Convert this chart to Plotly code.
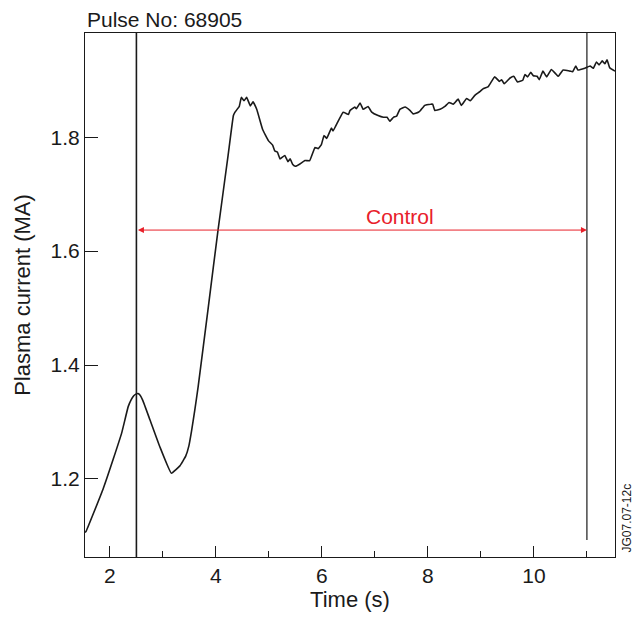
import plotly.graph_objects as go

time_s = [1.53, 1.55, 1.87, 2.06, 2.22, 2.345, 2.40, 2.45, 2.49, 2.53, 2.57, 2.62, 2.755, 2.94, 3.16, 3.32, 3.43,
          3.49, 3.54, 3.60, 3.665, 3.85, 3.95, 4.04, 4.23, 4.33, 4.36, 4.44,
          4.48, 4.53, 4.58, 4.65, 4.70, 4.77, 4.88, 4.99, 5.07, 5.11, 5.16, 5.21,
          5.30, 5.36, 5.40, 5.45, 5.50, 5.585, 5.68, 5.77, 5.87, 5.93, 5.99, 6.04, 6.09, 6.18, 6.21, 6.40, 6.50,
          6.53, 6.62, 6.65, 6.72, 6.78, 6.87, 6.94, 7.06, 7.16, 7.23, 7.28, 7.35, 7.41, 7.47, 7.57, 7.66, 7.72,
          7.82, 7.86, 7.94, 8.05, 8.09, 8.13, 8.23, 8.32, 8.40, 8.48, 8.57, 8.63, 8.73, 8.80, 8.89, 8.98, 9.04,
          9.14, 9.26, 9.35, 9.39, 9.44, 9.55, 9.62, 9.69, 9.79, 9.83, 9.88, 9.94, 9.99, 10.06, 10.10, 10.17,
          10.24, 10.33, 10.46, 10.55, 10.68, 10.73, 10.79, 10.83, 10.96, 11.06, 11.12, 11.18, 11.23, 11.29,
          11.34, 11.38, 11.43, 11.53]
current_ma = [1.106, 1.108, 1.182, 1.234, 1.280, 1.327, 1.339, 1.346, 1.349, 1.350, 1.347, 1.338, 1.304, 1.257,
              1.210, 1.223, 1.240, 1.258, 1.284, 1.320, 1.362, 1.497, 1.571, 1.637, 1.768, 1.838, 1.844, 1.854,
              1.870, 1.864, 1.870, 1.855, 1.862, 1.849, 1.814,
              1.794, 1.786, 1.776, 1.774, 1.762, 1.768, 1.757, 1.762, 1.752, 1.749, 1.753, 1.759, 1.759, 1.782,
              1.780, 1.787, 1.803, 1.798, 1.816, 1.811, 1.844, 1.840, 1.847, 1.853, 1.850, 1.860, 1.849, 1.854,
              1.844, 1.838, 1.835, 1.835, 1.828, 1.835, 1.837, 1.849, 1.853, 1.847, 1.841, 1.844, 1.847, 1.856,
              1.858, 1.858, 1.847, 1.849, 1.854, 1.861, 1.858, 1.867, 1.856, 1.868, 1.864, 1.874, 1.880, 1.885,
              1.889, 1.906, 1.898, 1.901, 1.894, 1.904, 1.907, 1.897, 1.900, 1.910, 1.906, 1.914, 1.908, 1.907,
              1.901, 1.916, 1.906, 1.919, 1.907, 1.918, 1.916, 1.915, 1.925, 1.918, 1.921, 1.925, 1.921, 1.932,
              1.927, 1.934, 1.929, 1.936, 1.922, 1.916]

x_ticks = [2, 4, 6, 8, 10]
y_ticks = [1.2, 1.4, 1.6, 1.8]
y_tick_labels = ["1.2", "1.4", "1.6", "1.8"]
x_range = [1.53, 11.53]
y_range = [1.063, 1.983]

control_start = 2.5
control_end = 11.0
control_level = 1.637
end_line_bottom = 1.093

font = "Liberation Sans, Arial, sans-serif"
ink = "#1a1a1a"

fig = go.Figure()
fig.add_trace(go.Scatter(x=time_s, y=current_ma, mode="lines", line_shape="spline",
                         line=dict(color=ink, width=1.6, smoothing=0.3), showlegend=False, hoverinfo="skip"))

fig.add_shape(type="line", xref="x", yref="paper", x0=control_start, x1=control_start, y0=0, y1=1,
              line=dict(color=ink, width=1.6))
fig.add_shape(type="line", xref="x", yref="y", x0=control_end, x1=control_end, y0=end_line_bottom, y1=y_range[1],
              line=dict(color=ink, width=1.2))

# double-headed red arrow
fig.add_annotation(x=control_end, y=control_level, ax=control_start, ay=control_level,
                   xref="x", yref="y", axref="x", ayref="y", text="", showarrow=True,
                   arrowhead=2, startarrowhead=2, arrowside="end+start", arrowsize=1.2, startarrowsize=1.2,
                   arrowwidth=1, arrowcolor="#e8202a")
fig.add_annotation(x=7.47, y=1.661, xref="x", yref="y", text="Control", showarrow=False,
                   font=dict(family=font, size=21, color="#e8202a"))

fig.add_annotation(x=0, y=1, xref="paper", yref="paper", xanchor="left", yanchor="bottom", yshift=0,
                   text="Pulse No: 68905", showarrow=False, font=dict(family=font, size=21, color=ink))
fig.add_annotation(x=1, y=0, xref="paper", yref="paper", xanchor="left", yanchor="bottom", xshift=2, yshift=2,
                   text="JG07.07-12c", textangle=-90, showarrow=False,
                   font=dict(family=font, size=12, color=ink))

fig.update_layout(
    width=634, height=619,
    margin=dict(l=85, r=19, t=33, b=57),
    plot_bgcolor="white", paper_bgcolor="white",
    font=dict(family=font, size=21, color=ink),
    xaxis=dict(range=x_range, tickvals=x_ticks, ticks="inside", ticklen=11, tickwidth=1, tickcolor=ink,
               showline=True, linecolor=ink, linewidth=1.2, mirror=True, showgrid=False, zeroline=False,
               tickfont=dict(size=21),
               minor=dict(tickvals=[3, 5, 7, 9, 11], ticks="inside", ticklen=6, tickcolor=ink, showgrid=False),
               title=dict(text="Time (s)", font=dict(size=22), standoff=4)),
    yaxis=dict(range=y_range, tickvals=y_ticks, ticktext=y_tick_labels, ticks="inside", ticklen=13, tickwidth=1,
               tickcolor=ink, showline=True, linecolor=ink, linewidth=1.2, mirror=True,
               showgrid=False, zeroline=False, tickfont=dict(size=21),
               title=dict(text="Plasma current (MA)", font=dict(size=22), standoff=13)),
)

fig.write_html("out.html")
